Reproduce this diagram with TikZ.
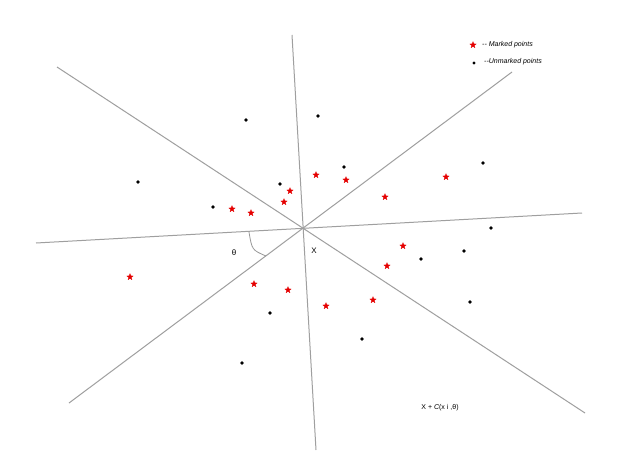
\documentclass[tikz,border=0pt]{standalone}
\usepackage{fontspec}
\setmainfont{Liberation Sans}
\usetikzlibrary{shapes.geometric}
\begin{document}
\begin{tikzpicture}[x=1pt,y=-1pt,
  axis/.style={draw=gray!75, line width=1pt},
  mk/.style={star, star points=5, star point ratio=2.3, fill=red!90!black, draw=red!90!black, line width=0.2pt, inner sep=0pt, minimum size=6.8pt},
  um/.style={circle, fill=black, inner sep=0pt, minimum size=3.8pt},
  lbl/.style={font=\fontsize{7}{8}\selectfont\itshape, inner sep=0pt, anchor=west}]
\useasboundingbox[fill=white] (0,0) rectangle (642,476);
\coordinate (O) at (303,230);
\coordinate (a1) at (292,35);  \coordinate (b1) at (316,450);
\coordinate (a2) at (57,67);   \coordinate (b2) at (585,413);
\coordinate (a3) at (36,243);  \coordinate (b3) at (582,213);
\coordinate (a4) at (512,72);  \coordinate (b4) at (69,403);
\draw[axis] (a1) -- (b1);
\draw[axis] (a2) -- (b2);
\draw[axis] (a3) -- (b3);
\draw[axis] (a4) -- (b4);
% legend
\node[mk] (ls) at (473,45) {};
\node[lbl] (lt1) at (482,45) {-{}- Marked points};
\node[um, minimum size=3.2pt] (ld) at (474,63) {};
\node[lbl] (lt2) at (484,62) {-{}-Unmarked points};
% marked points
\foreach \p [count=\i] in {(316,175),(346,180),(290,191),(284,202),(232,209),(251,213),(385,197),(446,177),(403,246),(387,266),(130,277),(254,284),(288,290),(326,306),(373,300)}
  \node[mk] (m\i) at \p {};
% unmarked points
\foreach \p [count=\i] in {(246,120),(318,116),(138,182),(280,184),(344,167),(213,207),(483,163),(491,228),(421,259),(464,251),(270,313),(470,302),(362,339),(242,363)}
  \node[um] (u\i) at \p {};
% angle
\coordinate (t1) at (249,232);
\coordinate (t2) at (266,256);
\draw[gray!80, line width=0.8pt] (t1) .. controls (252,250) .. (t2);
\node[font=\fontsize{8}{9}\selectfont, inner sep=0pt] (th) at (234,253) {θ};
\node[font=\fontsize{8}{9}\selectfont, inner sep=0pt] (X) at (314,251) {X};
\node[font=\fontsize{7}{8}\selectfont, inner sep=0pt] (eq) at (440,408) {X + \textit{C}(x i ,θ)};
\end{tikzpicture}
\end{document}
